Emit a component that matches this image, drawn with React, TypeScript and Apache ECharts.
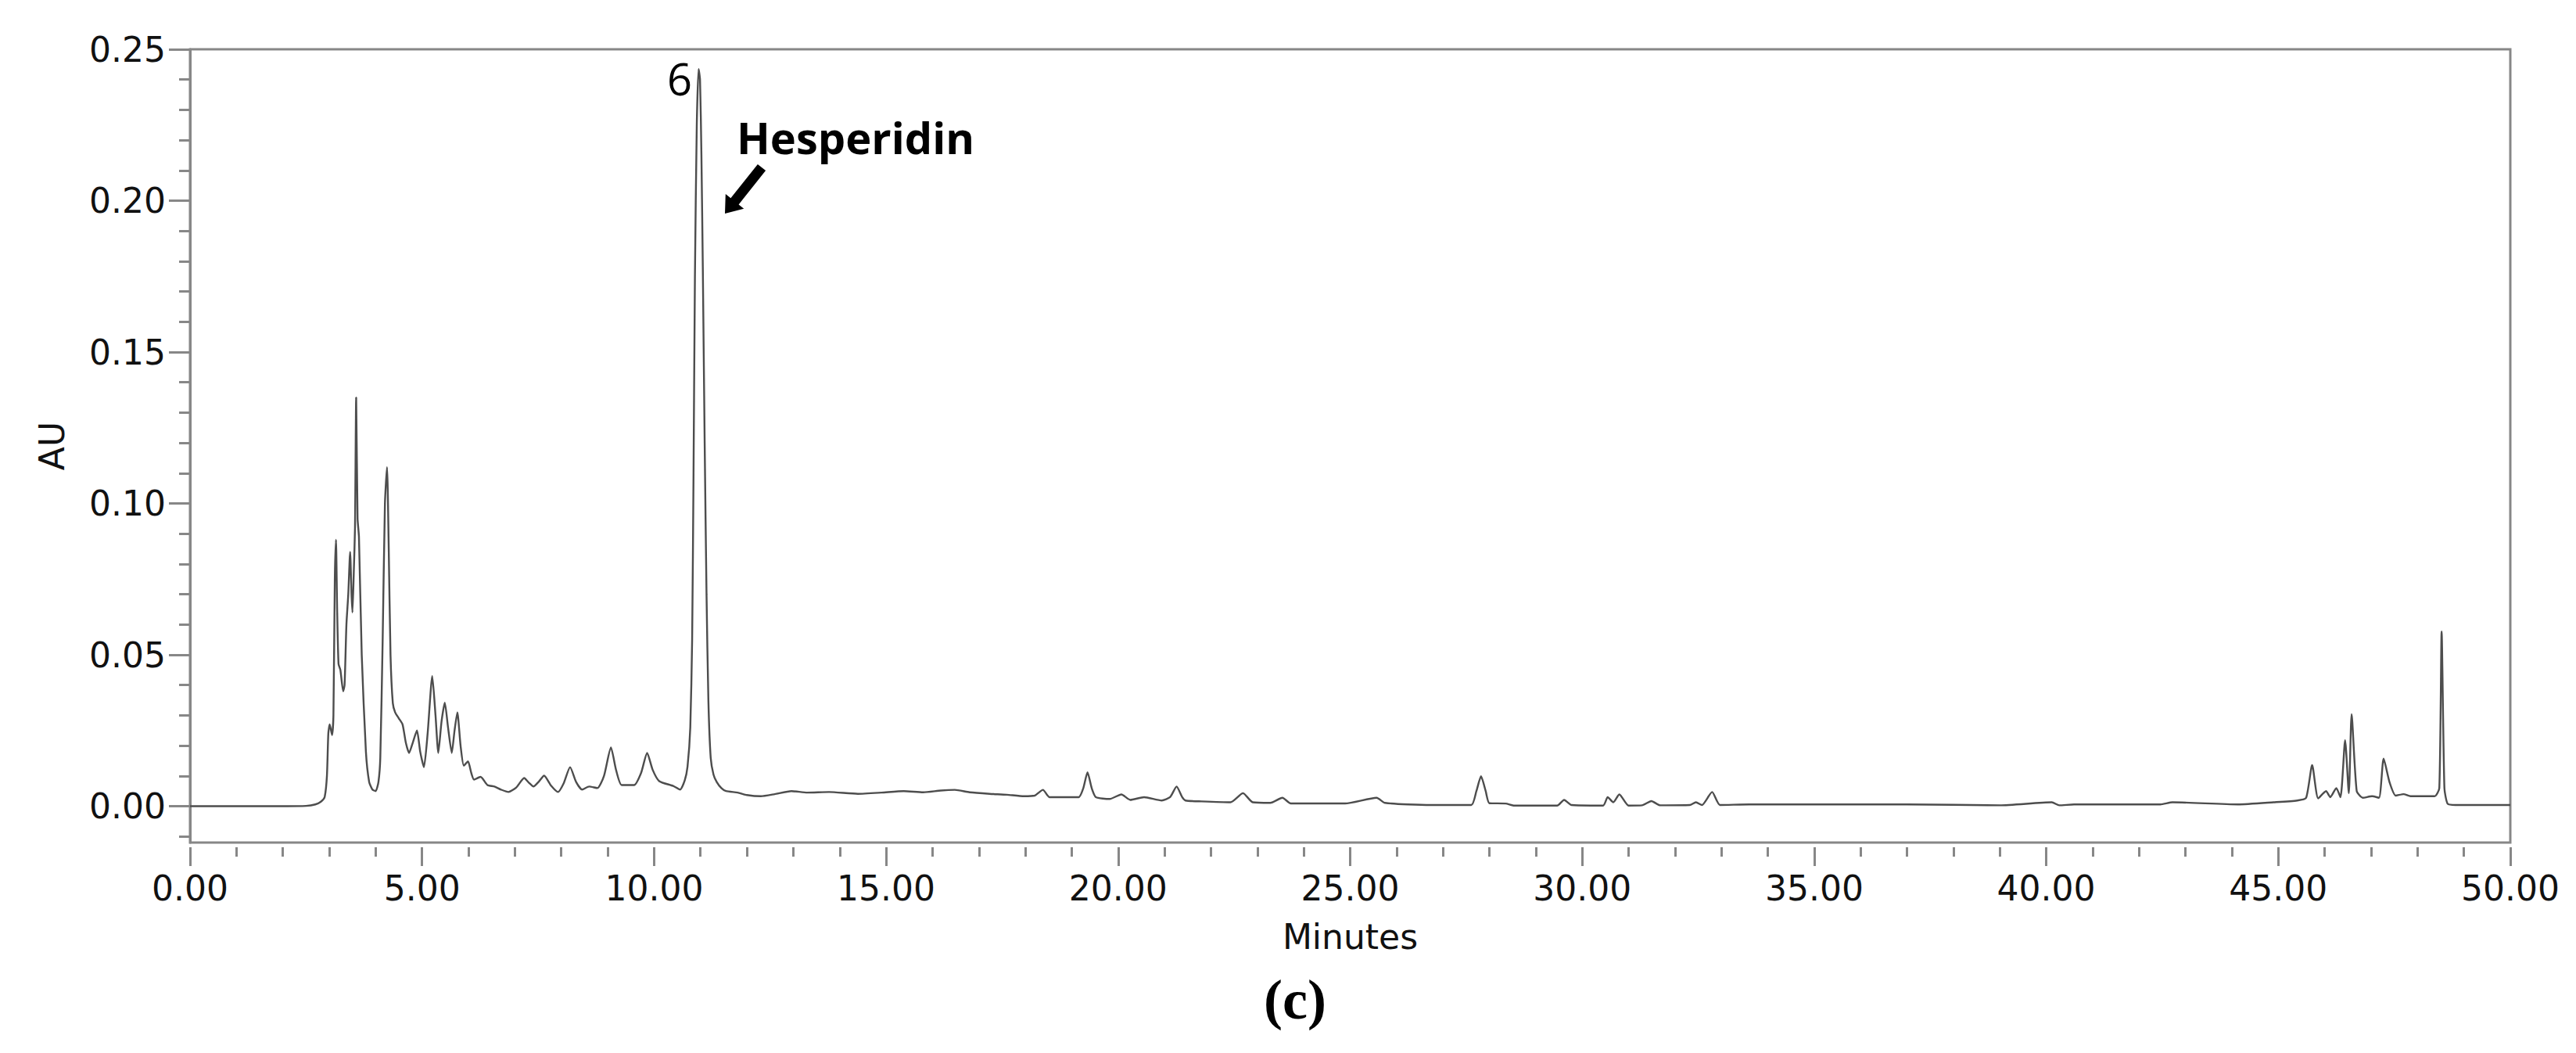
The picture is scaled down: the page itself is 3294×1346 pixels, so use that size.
import React, { useEffect, useRef } from "react";
import * as echarts from "echarts";

// Chromatogram: [minutes, AU]
const segBaseline: number[][] = [
  [0, 0], [1.0, 0], [2.0, 0], [2.5, 0.0001], [2.7, 0.0006], [2.82, 0.0015], [2.9, 0.003],
];
const segEarlyPeaks: number[][] = [
  [2.95, 0.01], [2.98, 0.024], [3.01, 0.027], [3.06, 0.0235], [3.09, 0.03], [3.12, 0.075],
  [3.145, 0.088], [3.17, 0.065], [3.2, 0.047], [3.24, 0.045], [3.3, 0.038], [3.33, 0.04],
  [3.37, 0.06], [3.41, 0.07], [3.45, 0.084], [3.48, 0.07], [3.5, 0.064], [3.53, 0.078],
  [3.555, 0.092], [3.58, 0.135], [3.61, 0.095], [3.64, 0.089], [3.7, 0.05], [3.79, 0.018],
  [3.86, 0.008], [3.93, 0.0055], [4.0, 0.005], [4.06, 0.008], [4.1, 0.016], [4.15, 0.054],
  [4.2, 0.1], [4.245, 0.112], [4.28, 0.087], [4.32, 0.05], [4.37, 0.034], [4.42, 0.031],
  [4.5, 0.029], [4.58, 0.027], [4.65, 0.021], [4.72, 0.0176], [4.8, 0.021], [4.89, 0.025],
  [4.96, 0.018], [5.04, 0.0129], [5.12, 0.024], [5.22, 0.043], [5.29, 0.03], [5.35, 0.0176],
  [5.42, 0.028], [5.49, 0.0342], [5.56, 0.026], [5.64, 0.0176], [5.7, 0.025], [5.76, 0.031],
  [5.83, 0.02], [5.9, 0.0134], [5.99, 0.0148], [6.06, 0.011], [6.12, 0.0088], [6.26, 0.0097],
  [6.41, 0.007], [6.56, 0.0065], [6.7, 0.0055], [6.86, 0.0047], [7.03, 0.0062], [7.2, 0.0093],
  [7.3, 0.0078], [7.4, 0.0065], [7.52, 0.0082], [7.63, 0.0101], [7.78, 0.0068], [7.93, 0.0047],
  [8.05, 0.0075], [8.19, 0.0129], [8.32, 0.008], [8.45, 0.0055], [8.6, 0.0065], [8.78, 0.006],
  [8.92, 0.01], [9.07, 0.0194], [9.18, 0.012], [9.3, 0.007], [9.57, 0.007], [9.72, 0.011],
  [9.85, 0.0176], [9.97, 0.012], [10.11, 0.0083], [10.41, 0.0067], [10.56, 0.0055], [10.66, 0.0085],
];
const segHesperidin: number[][] = [
  [10.72, 0.013], [10.78, 0.026], [10.82, 0.055], [10.85, 0.11], [10.88, 0.175], [10.92, 0.225],
  [10.96, 0.2435], [10.99, 0.24], [11.02, 0.215], [11.05, 0.178], [11.09, 0.12], [11.13, 0.07],
  [11.17, 0.035], [11.22, 0.016], [11.28, 0.0105], [11.35, 0.008], [11.45, 0.006], [11.55, 0.005],
];
const segMiddle: number[][] = [
  [11.8, 0.0045], [12.0, 0.0037], [12.3, 0.0033], [12.6, 0.004], [12.96, 0.005], [13.3, 0.0045],
  [13.77, 0.0047], [14.39, 0.0041], [14.9, 0.0045], [15.38, 0.005], [15.8, 0.0046], [16.18, 0.0052],
  [16.48, 0.0054], [16.8, 0.0046], [17.23, 0.0041], [17.6, 0.0038], [17.97, 0.0033], [18.2, 0.0035],
  [18.38, 0.0054], [18.52, 0.003], [19.15, 0.003], [19.25, 0.006], [19.34, 0.0112], [19.43, 0.006],
  [19.52, 0.003], [19.82, 0.0024], [20.07, 0.0039], [20.26, 0.0021], [20.56, 0.003], [20.94, 0.0019],
  [21.12, 0.003], [21.26, 0.0065], [21.38, 0.003], [21.45, 0.0019], [21.8, 0.0016], [22.42, 0.0013],
  [22.69, 0.0043], [22.9, 0.0013], [23.28, 0.0011], [23.54, 0.0028], [23.72, 0.0009], [24.89, 0.0009],
  [25.57, 0.0028], [25.75, 0.0011], [26.74, 0.0004], [27.61, 0.0004], [27.72, 0.005], [27.82, 0.0099],
  [27.92, 0.005], [28.0, 0.001], [28.35, 0.0009], [28.54, 0.0002], [29.46, 0.0002], [29.61, 0.0021],
  [29.77, 0.0004], [30.45, 0.0002], [30.55, 0.003], [30.67, 0.0013], [30.8, 0.0039], [31.0, 0.0002],
];
const segLate: number[][] = [
  [31.29, 0.0003], [31.49, 0.0017], [31.68, 0.0003], [32.32, 0.0004], [32.45, 0.0013], [32.58, 0.0004],
  [32.8, 0.0047], [32.97, 0.0004], [33.6, 0.0006], [34.37, 0.0006], [34.73, 0.0006], [35.98, 0.0006],
  [37.0, 0.0006], [39.0, 0.0003], [40.12, 0.0013], [40.28, 0.0003], [40.6, 0.0006], [42.46, 0.0006],
  [42.72, 0.0013], [44.13, 0.0006], [44.9, 0.0013], [45.41, 0.0019], [45.6, 0.0028], [45.73, 0.0136],
  [45.86, 0.0026], [46.03, 0.005], [46.12, 0.003], [46.25, 0.006], [46.34, 0.003], [46.44, 0.0218],
  [46.52, 0.0043], [46.58, 0.0304], [46.69, 0.005], [46.82, 0.0028], [47.02, 0.0033], [47.17, 0.0028],
  [47.27, 0.0157], [47.4, 0.0078], [47.53, 0.0035], [47.7, 0.004], [47.85, 0.0033], [48.37, 0.0033],
  [48.47, 0.006], [48.52, 0.0577], [48.58, 0.006], [48.65, 0.0008], [48.82, 0.0004], [50.0, 0.0004],
];

const yMajorTicks = [0, 0.05, 0.1, 0.15, 0.2, 0.25];
const yMinorTicks = [
  -0.01, 0.01, 0.02, 0.03, 0.04, 0.06, 0.07, 0.08, 0.09, 0.11, 0.12, 0.13, 0.14,
  0.16, 0.17, 0.18, 0.19, 0.21, 0.22, 0.23, 0.24,
];

const AXIS_GRAY = "#878787";
const LABEL_FONT = "DejaVu Sans";

export default function App() {
  const ref = useRef<HTMLDivElement>(null);

  useEffect(() => {
    if (!ref.current) return;
    const chart = echarts.init(ref.current, undefined, { renderer: "svg" });
    const data = [...segBaseline, ...segEarlyPeaks, ...segHesperidin, ...segMiddle, ...segLate];

    chart.setOption({
      animation: false,
      backgroundColor: "#ffffff",
      grid: {
        left: 243,
        right: 84,
        top: 63,
        bottom: 269,
        show: true,
        borderColor: AXIS_GRAY,
        borderWidth: 3,
        backgroundColor: "transparent",
      },
      xAxis: {
        type: "value",
        min: 0,
        max: 50,
        interval: 5,
        offset: 6,
        axisLine: { show: false, onZero: false },
        axisTick: { show: true, length: 24, lineStyle: { color: AXIS_GRAY, width: 3 } },
        minorTick: { show: true, splitNumber: 5, length: 12, lineStyle: { color: AXIS_GRAY, width: 3 } },
        splitLine: { show: false },
        minorSplitLine: { show: false },
        axisLabel: {
          margin: 30,
          fontSize: 44,
          fontFamily: LABEL_FONT,
          color: "#111",
          formatter: (v: number) => v.toFixed(2),
        },
        name: "Minutes",
        nameLocation: "middle",
        nameGap: 92,
        nameTextStyle: { fontSize: 44, fontFamily: LABEL_FONT, color: "#111" },
      },
      yAxis: [
        {
          type: "value",
          min: -0.012,
          max: 0.25,
          position: "left",
          axisLine: { show: true, onZero: false, lineStyle: { color: AXIS_GRAY, width: 3 } },
          axisTick: {
            show: true,
            length: 27,
            customValues: yMajorTicks,
            lineStyle: { color: AXIS_GRAY, width: 3 },
          },
          splitLine: { show: false },
          axisLabel: {
            margin: 31,
            fontSize: 44,
            fontFamily: LABEL_FONT,
            color: "#111",
            customValues: yMajorTicks,
            formatter: (v: number) => v.toFixed(2),
          },
          name: "AU",
          nameLocation: "middle",
          nameRotate: 90,
          nameGap: 155,
          nameTextStyle: { fontSize: 44, fontFamily: LABEL_FONT, color: "#111" },
        },
        {
          type: "value",
          min: -0.012,
          max: 0.25,
          position: "left",
          offset: 0,
          axisLine: { show: false, onZero: false },
          axisTick: {
            show: true,
            length: 14,
            customValues: yMinorTicks,
            lineStyle: { color: AXIS_GRAY, width: 3 },
          },
          axisLabel: { show: false },
          splitLine: { show: false },
        },
      ],
      series: [
        {
          type: "line",
          data,
          xAxisIndex: 0,
          yAxisIndex: 0,
          showSymbol: false,
          smooth: 0.2,
          lineStyle: { color: "#4d4d4d", width: 2.4 },
        },
      ],
      graphic: [
        {
          type: "text",
          style: {
            text: "6",
            x: 885,
            y: 100,
            align: "right",
            verticalAlign: "middle",
            fontSize: 56,
            fontFamily: "Open Sans",
            fill: "#000",
          },
        },
        {
          type: "text",
          style: {
            text: "Hesperidin",
            x: 942,
            y: 175,
            align: "left",
            verticalAlign: "middle",
            fontSize: 56,
            fontWeight: "bold",
            fontFamily: "Open Sans",
            fill: "#000",
          },
        },
        {
          type: "polygon",
          shape: {
            points: [
              [968.9, 209.9],
              [979.1, 218.0],
              [944.6, 261.4],
              [951.2, 266.7],
              [927, 273],
              [927.8, 248.1],
              [934.4, 253.3],
            ],
          },
          style: { fill: "#000" },
        },
        {
          type: "text",
          style: {
            text: "(c)",
            x: 1656,
            y: 1278,
            align: "center",
            verticalAlign: "middle",
            fontSize: 72,
            fontWeight: "bold",
            fontFamily: "Liberation Serif",
            fill: "#000",
          },
        },
      ],
    });

    return () => chart.dispose();
  }, []);

  return (
    <div
      ref={ref}
      style={{ position: "absolute", left: 0, top: 0, width: 3294, height: 1346, background: "#fff" }}
    />
  );
}
